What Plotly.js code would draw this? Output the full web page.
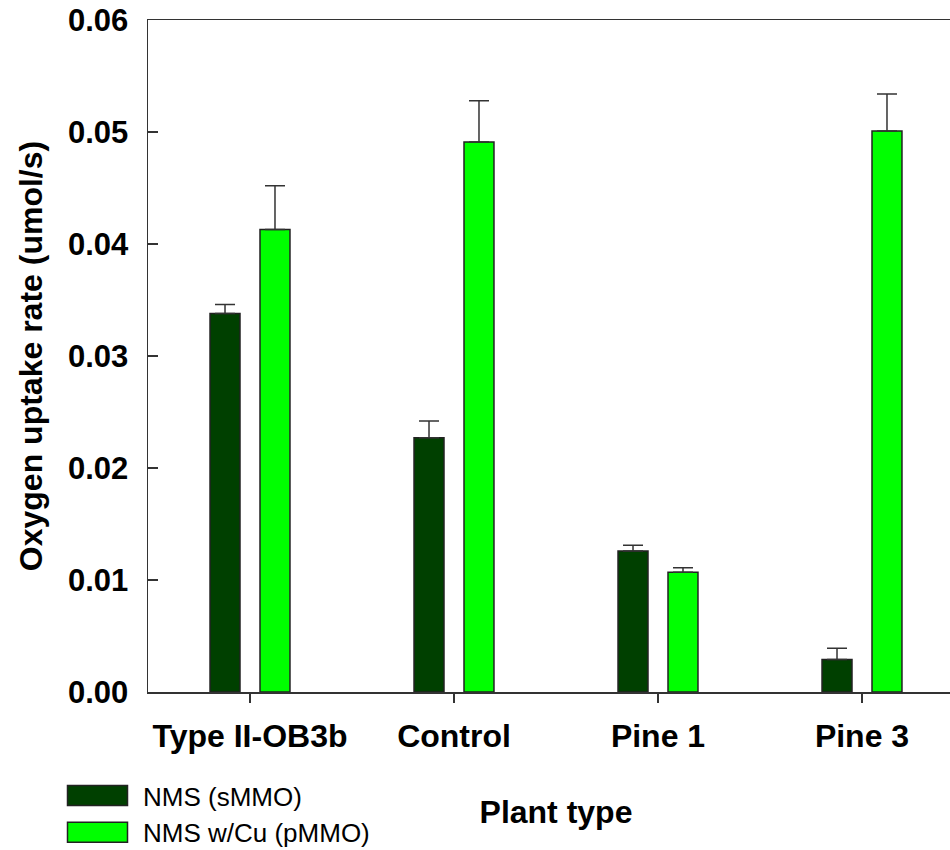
<!DOCTYPE html>
<html>
<head>
<meta charset="utf-8">
<script src="https://cdn.plot.ly/plotly-3.0.1.min.js"></script>
<style>
  html, body { margin: 0; padding: 0; overflow: hidden; background: #fff; }
  #chart { width: 964px; height: 900px; }
</style>
</head>
<body>
<div id="chart"></div>
<script>
// ---- data ----
const categories = ["Type II-OB3b", "Control", "Pine 1", "Pine 3"];
const smmoValues = [0.0338, 0.0227, 0.0126, 0.0029];
const smmoErrors = [0.0008, 0.0015, 0.0005, 0.0010];
const pmmoValues = [0.0413, 0.0491, 0.0107, 0.0501];
const pmmoErrors = [0.0039, 0.0037, 0.0004, 0.0033];
const seriesNames = ["NMS (sMMO)", "NMS w/Cu (pMMO)"];
const yTickValues = [0, 0.01, 0.02, 0.03, 0.04, 0.05, 0.06];

const zeros = categories.map(() => 0);
const lineCol = "#222";

const traces = [
  {
    type: "bar", name: seriesNames[0], x: categories, y: smmoValues,
    marker: { color: "#004000", line: { color: lineCol, width: 1.5 } },
    error_y: { type: "data", symmetric: false, array: smmoErrors, arrayminus: zeros,
               color: "#333", thickness: 1.5, width: 10 }
  },
  {
    type: "bar", name: seriesNames[1], x: categories, y: pmmoValues,
    marker: { color: "#00FF00", line: { color: lineCol, width: 1.5 } },
    error_y: { type: "data", symmetric: false, array: pmmoErrors, arrayminus: zeros,
               color: "#333", thickness: 1.5, width: 10 }
  }
];

const fam = "Liberation Sans, Arial, sans-serif";
const boldFont = { family: fam, size: 32, color: "#000", weight: "bold" };
const yTickFont = { family: fam, size: 31, color: "#000", weight: "bold" };

const layout = {
  width: 964, height: 900,
  margin: { l: 148, r: 0, t: 20, b: 208 },
  paper_bgcolor: "#fff", plot_bgcolor: "#fff",
  barmode: "group", bargap: 0.51, bargroupgap: 0.4,
  showlegend: true,
  legend: {
    x: (52 - 148) / 816, xanchor: "left",
    y: (692 - 772) / 672, yanchor: "top",
    font: { family: fam, size: 26, color: "#000" },
    itemwidth: 81, bgcolor: "rgba(0,0,0,0)", tracegroupgap: 0
  },
  xaxis: {
    type: "category", range: [-0.5, 3.5],
    showline: true, linecolor: "#333", linewidth: 1.5, mirror: true,
    ticks: "outside", ticklen: 9, tickwidth: 1.5, tickcolor: "#333",
    showgrid: false, zeroline: false,
    tickfont: boldFont, ticklabelstandoff: 6,
    title: { text: "Plant type", font: boldFont, standoff: 47 }
  },
  yaxis: {
    range: [0, 0.06], tickvals: yTickValues, tickformat: ".2f",
    showline: true, linecolor: "#333", linewidth: 1.5, mirror: false,
    ticks: "inside", ticklen: 10, tickwidth: 1.5, tickcolor: "#333",
    showgrid: false, zeroline: false,
    tickfont: yTickFont, ticklabelstandoff: 12,
    title: { text: "Oxygen uptake rate (umol/s)", font: boldFont, standoff: 16 }
  }
};

Plotly.newPlot("chart", traces, layout, { staticPlot: true }).then(function () {
  // enlarge legend swatches to the wide rectangles of the reference
  document.querySelectorAll("#chart .legend .legendpoints path").forEach(function (p) {
    p.setAttribute("d", "M30,10H-30V-10H30Z");
  });
});
</script>
</body>
</html>
